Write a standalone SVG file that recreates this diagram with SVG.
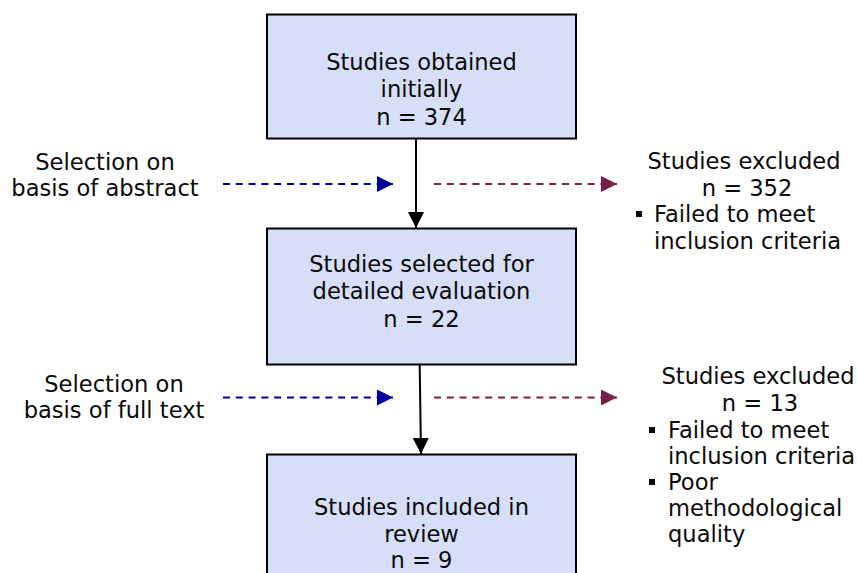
<svg xmlns="http://www.w3.org/2000/svg" width="857" height="573" viewBox="0 0 857 573">
<defs>
<style>
text{font-family:"DejaVu Sans","Verdana",sans-serif;font-size:22.6px;fill:#0a0a0a}
.c{text-anchor:middle}
.box{fill:#D7DFF8;stroke:#000;stroke-width:2}
.solid{stroke:#000;stroke-width:2;fill:none}
.blue{stroke:#000099;stroke-width:2;stroke-dasharray:7,5.8;fill:none}
.red{stroke:#7A1F48;stroke-width:2;stroke-dasharray:7,5.8;fill:none}
.bul{fill:#0a0a0a}
</style>
<marker id="ab" markerWidth="16" markerHeight="16" refX="16" refY="8" orient="auto" markerUnits="userSpaceOnUse"><path d="M0,0 L16,8 L0,16 Z" fill="#000"/></marker>
<marker id="abl" markerWidth="16" markerHeight="16" refX="16" refY="8" orient="auto" markerUnits="userSpaceOnUse"><path d="M0,0 L16,8 L0,16 Z" fill="#000099"/></marker>
<marker id="ar" markerWidth="16" markerHeight="16" refX="16" refY="8" orient="auto" markerUnits="userSpaceOnUse"><path d="M0,0 L16,8 L0,16 Z" fill="#7A1F48"/></marker>
</defs>
<g id="connectors">
<line class="solid" x1="416" y1="138" x2="416" y2="228" marker-end="url(#ab)"/>
<line class="solid" x1="419.5" y1="352" x2="421" y2="454" marker-end="url(#ab)"/>
<line class="blue" x1="223" y1="184" x2="393" y2="184" marker-end="url(#abl)"/>
<line class="red" x1="434" y1="184" x2="617" y2="184" marker-end="url(#ar)"/>
<line class="blue" x1="223" y1="397.5" x2="393" y2="397.5" marker-end="url(#abl)"/>
<line class="red" x1="434" y1="397.5" x2="617" y2="397.5" marker-end="url(#ar)"/>
</g>
<g id="box1">
<rect class="box" x="267" y="14.5" width="309" height="124"/>
<text class="c" x="421.5" y="70">Studies obtained</text>
<text class="c" x="421.5" y="97">initially</text>
<text class="c" x="421.5" y="125">n = 374</text>
</g>
<g id="box2">
<rect class="box" x="267" y="228.5" width="309" height="136"/>
<text class="c" x="421.5" y="272">Studies selected for</text>
<text class="c" x="421.5" y="299">detailed evaluation</text>
<text class="c" x="421.5" y="327">n = 22</text>
</g>
<g id="box3">
<rect class="box" x="267" y="454.5" width="309" height="130"/>
<text class="c" x="421.5" y="515">Studies included in</text>
<text class="c" x="421.5" y="542">review</text>
<text class="c" x="421.5" y="568">n = 9</text>
</g>
<g id="label-abstract">
<text class="c" x="105" y="170">Selection on</text>
<text class="c" x="105" y="196">basis of abstract</text>
</g>
<g id="label-fulltext">
<text class="c" x="114" y="392">Selection on</text>
<text class="c" x="114" y="418">basis of full text</text>
</g>
<g id="excluded1">
<text class="c" x="744" y="169">Studies excluded</text>
<text class="c" x="747" y="196">n = 352</text>
<rect class="bul" x="636" y="211" width="6" height="6"/>
<text x="654" y="222">Failed to meet</text>
<text x="654" y="249">inclusion criteria</text>
</g>
<g id="excluded2">
<text class="c" x="758" y="384">Studies excluded</text>
<text class="c" x="760" y="411">n = 13</text>
<rect class="bul" x="649" y="427" width="6" height="6"/>
<text x="668" y="438">Failed to meet</text>
<text x="668" y="464">inclusion criteria</text>
<rect class="bul" x="649" y="479" width="6" height="6"/>
<text x="668" y="490">Poor</text>
<text x="668" y="516">methodological</text>
<text x="668" y="542">quality</text>
</g>
</svg>
